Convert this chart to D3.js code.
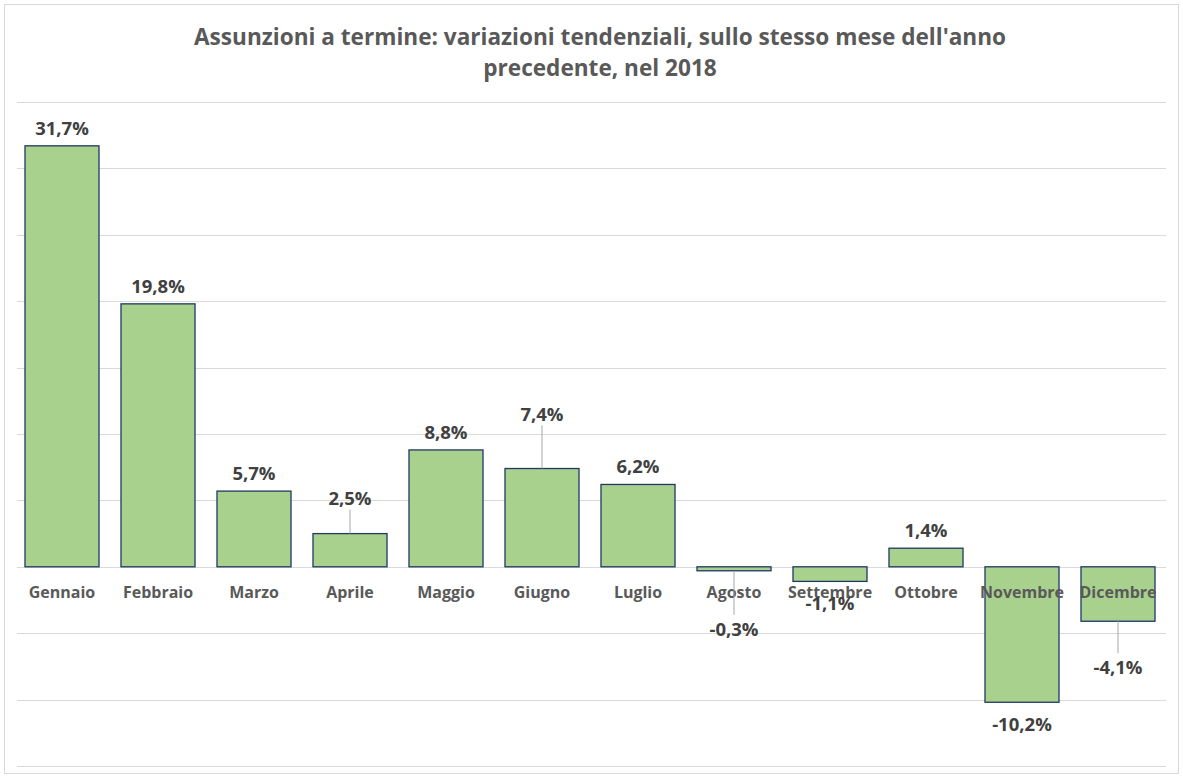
<!DOCTYPE html>
<html>
<head>
<meta charset="utf-8">
<script src="https://cdn.jsdelivr.net/npm/d3@7"></script>
<style>
  html, body { margin: 0; padding: 0; background: #fff; }
  svg { display: block; }
</style>
</head>
<body>
<svg id="chart" width="1183" height="778"></svg>
<script>
const months = ["Gennaio","Febbraio","Marzo","Aprile","Maggio","Giugno","Luglio","Agosto","Settembre","Ottobre","Novembre","Dicembre"];
const values = [31.7, 19.8, 5.7, 2.5, 8.8, 7.4, 6.2, -0.3, -1.1, 1.4, -10.2, -4.1];
const valueLabels = ["31,7%","19,8%","5,7%","2,5%","8,8%","7,4%","6,2%","-0,3%","-1,1%","1,4%","-10,2%","-4,1%"];
const gridTicks = [-15, -10, -5, 0, 5, 10, 15, 20, 25, 30, 35];
const titleLines = ["Assunzioni a termine: variazioni tendenziali, sullo stesso mese dell'anno", "precedente, nel 2018"];
// extra label displacement (px) beyond default placement, for labels moved by hand in the original
const labelShift = [0, 0, 0, 18, 0, 37, 0, 36, 0, 0, 0, 24];

const svg = d3.select("#chart");
const W = 1183, H = 778;

svg.append("rect").attr("x", 4.5).attr("y", 4.5).attr("width", W - 9).attr("height", H - 9)
  .attr("fill", "#fff").attr("stroke", "#d9d9d9").attr("stroke-width", 1);

const x = d3.scaleBand().domain(months).range([14, 1166]).paddingInner(0.229).paddingOuter(0.1145);
const y = d3.scaleLinear().domain([-15, 35]).range([766, 102]);

// gridlines
svg.append("g").selectAll("line").data(gridTicks).join("line")
  .attr("x1", 17).attr("x2", 1166)
  .attr("y1", d => Math.round(y(d)) + 0.5).attr("y2", d => Math.round(y(d)) + 0.5)
  .attr("stroke", "#d9d9d9").attr("stroke-width", 1);

// title
svg.append("g").selectAll("text").data(titleLines).join("text")
  .attr("x", 600).attr("y", (d, i) => 45 + i * 31)
  .attr("text-anchor", "middle")
  .attr("font-family", "'Open Sans', sans-serif").attr("font-weight", 700)
  .attr("font-size", 22.6).attr("fill", "#595959")
  .text(d => d);

// bars
svg.append("g").selectAll("rect").data(values).join("rect")
  .attr("x", (d, i) => x(months[i]))
  .attr("y", d => y(Math.max(0, d)))
  .attr("width", x.bandwidth())
  .attr("height", d => Math.abs(y(d) - y(0)))
  .attr("fill", "#A9D18E").attr("stroke", "#1F3864").attr("stroke-width", 1.3);

// category labels
const xAxis = d3.axisBottom(x).tickSize(0).tickPadding(0);
const gx = svg.append("g").attr("transform", `translate(0,${y(0)})`).call(xAxis);
gx.select(".domain").remove();
gx.selectAll("text")
  .attr("y", 31)
  .attr("dy", 0)
  .attr("font-family", "'Open Sans', sans-serif").attr("font-weight", 700)
  .attr("font-size", 16).attr("fill", "#595959");

// data labels with leader lines
const lab = svg.append("g");
values.forEach((v, i) => {
  const cx = x(months[i]) + x.bandwidth() / 2;
  const edge = y(v);
  const shift = labelShift[i];
  let ty;
  if (v >= 0) {
    ty = edge - 11 - shift;
    if (shift > 0) {
      lab.append("line").attr("x1", cx).attr("x2", cx)
        .attr("y1", ty + 5).attr("y2", edge)
        .attr("stroke", "#a6a6a6").attr("stroke-width", 1);
    }
  } else {
    ty = edge + 29 + shift;
    if (shift > 0) {
      lab.append("line").attr("x1", cx).attr("x2", cx)
        .attr("y1", edge).attr("y2", ty - 21)
        .attr("stroke", "#a6a6a6").attr("stroke-width", 1);
    }
  }
  lab.append("text")
    .attr("x", cx).attr("y", ty)
    .attr("text-anchor", "middle")
    .attr("font-family", "'Open Sans', sans-serif").attr("font-weight", 700)
    .attr("font-size", 18.5).attr("fill", "#404040")
    .text(valueLabels[i]);
});
</script>
</body>
</html>
